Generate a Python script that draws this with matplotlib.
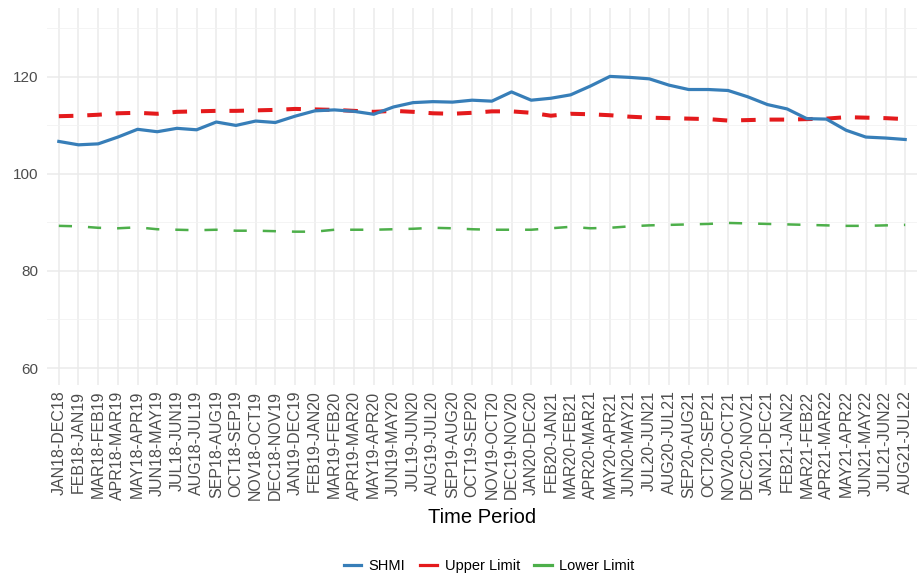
import matplotlib
matplotlib.use("Agg")
import matplotlib.pyplot as plt
from matplotlib.lines import Line2D
import numpy as np

periods = [
    "JAN18-DEC18", "FEB18-JAN19", "MAR18-FEB19", "APR18-MAR19", "MAY18-APR19",
    "JUN18-MAY19", "JUL18-JUN19", "AUG18-JUL19", "SEP18-AUG19", "OCT18-SEP19",
    "NOV18-OCT19", "DEC18-NOV19", "JAN19-DEC19", "FEB19-JAN20", "MAR19-FEB20",
    "APR19-MAR20", "MAY19-APR20", "JUN19-MAY20", "JUL19-JUN20", "AUG19-JUL20",
    "SEP19-AUG20", "OCT19-SEP20", "NOV19-OCT20", "DEC19-NOV20", "JAN20-DEC20",
    "FEB20-JAN21", "MAR20-FEB21", "APR20-MAR21", "MAY20-APR21", "JUN20-MAY21",
    "JUL20-JUN21", "AUG20-JUL21", "SEP20-AUG21", "OCT20-SEP21", "NOV20-OCT21",
    "DEC20-NOV21", "JAN21-DEC21", "FEB21-JAN22", "MAR21-FEB22", "APR21-MAR22",
    "MAY21-APR22", "JUN21-MAY22", "JUL21-JUN22", "AUG21-JUL22",
]

shmi = [
    106.7, 106.0, 106.2, 107.6, 109.2, 108.7, 109.4, 109.1, 110.7, 110.0,
    110.9, 110.6, 111.9, 113.0, 113.2, 112.9, 112.3, 113.8, 114.7, 114.9,
    114.8, 115.2, 115.0, 116.9, 115.2, 115.6, 116.3, 118.1, 120.1, 119.9,
    119.6, 118.3, 117.4, 117.4, 117.2, 115.9, 114.3, 113.4, 111.4, 111.3,
    109.0, 107.6, 107.4, 107.1,
]

upper_limit = [
    111.9, 112.0, 112.2, 112.5, 112.6, 112.4, 112.8, 112.9, 113.0, 113.0,
    113.1, 113.2, 113.4, 113.3, 113.2, 113.0, 112.8, 113.0, 112.8, 112.5,
    112.4, 112.6, 112.9, 112.9, 112.6, 112.0, 112.4, 112.3, 112.1, 111.8,
    111.6, 111.5, 111.4, 111.3, 111.0, 111.1, 111.2, 111.2, 111.3, 111.4,
    111.7, 111.6, 111.5, 111.3,
]

lower_limit = [
    89.3, 89.2, 88.9, 88.8, 89.0, 88.6, 88.5, 88.4, 88.5, 88.3,
    88.3, 88.2, 88.1, 88.1, 88.5, 88.5, 88.5, 88.6, 88.7, 88.9,
    88.8, 88.6, 88.5, 88.5, 88.5, 88.8, 89.1, 88.8, 88.9, 89.2,
    89.4, 89.5, 89.6, 89.7, 89.9, 89.8, 89.7, 89.6, 89.5, 89.4,
    89.3, 89.3, 89.4, 89.5,
]

plt.rcParams["font.family"] = ["Liberation Sans", "DejaVu Sans"]
plt.rcParams["lines.scale_dashes"] = False

fig = plt.figure(figsize=(9.17, 5.75), dpi=100)
W, H = 917, 575
ax = fig.add_axes([47 / W, (H - 385) / H, 1 - 47 / W, (385 - 8) / H])

x = np.arange(len(periods))

ax.plot(x, shmi, color="#377EB8", lw=2.3, label="SHMI", zorder=4)
ax.plot(x, upper_limit, color="#E41A1C", lw=2.9, dashes=(10.5, 10.0), label="Upper Limit", zorder=3)
ax.plot(x, lower_limit, color="#4DAF4A", lw=1.8, dashes=(9.5, 11.5), label="Lower Limit", zorder=3)

ax.set_xlim(-0.6, len(periods) - 1 + 0.6)
ax.set_ylim(56.5, 134.2)

ax.set_xticks(x)
ax.set_xticklabels(periods, rotation=90, fontsize=11.5, color="#4d4d4d")
ax.set_yticks([60, 80, 100, 120])
ax.set_yticks([70, 90, 110, 130], minor=True)
ax.tick_params(axis="y", labelsize=11, labelcolor="#4d4d4d", pad=6)
ax.tick_params(axis="x", pad=4)
ax.tick_params(axis="both", which="both", length=0)

ax.grid(True, which="major", axis="both", color="#ebebeb", lw=1.1)
ax.grid(True, which="minor", axis="y", color="#f2f2f2", lw=0.6)
ax.set_axisbelow(True)
for s in ax.spines.values():
    s.set_visible(False)

ax.set_xlabel("Time Period", fontsize=14.5, color="black", labelpad=6)

labels = ["SHMI", "Upper Limit", "Lower Limit"]
leg_handles = [
    Line2D([], [], color="#377EB8", lw=2.3),
    Line2D([], [], color="#E41A1C", lw=2.3),
    Line2D([], [], color="#4DAF4A", lw=2.3),
]
fig.legend(leg_handles, labels, loc="center", bbox_to_anchor=(489 / W, 9 / H),
           ncol=3, frameon=False, fontsize=10.5, handlelength=1.2,
           handletextpad=0.5, columnspacing=1.0)

fig.savefig("out.png", dpi=100, facecolor="white")
